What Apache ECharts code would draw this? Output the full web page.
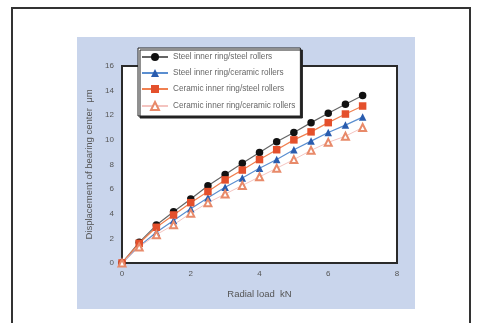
<!DOCTYPE html>
<html><head><meta charset="utf-8">
<script src="https://cdn.jsdelivr.net/npm/echarts@6/dist/echarts.min.js"></script>
<style>html,body{margin:0;padding:0;background:#fff}#c{width:479px;height:323px}</style>
</head><body><div id="c"></div>
<script>
const loads = [0,0.5,1,1.5,2,2.5,3,3.5,4,4.5,5,5.5,6,6.5,7];
const steelSteel = [0,1.68,3.08,4.16,5.19,6.27,7.19,8.1,8.97,9.84,10.6,11.4,12.16,12.9,13.6];
const steelCeramic = [0,1.35,2.5,3.45,4.4,5.3,6.15,6.9,7.7,8.4,9.2,9.9,10.6,11.2,11.85];
const ceramicSteel = [0,1.6,2.9,3.9,4.9,5.8,6.75,7.55,8.4,9.2,10.0,10.65,11.4,12.1,12.75];
const ceramicCeramic = [0,1.3,2.3,3.1,4.05,4.9,5.6,6.3,7.0,7.7,8.4,9.15,9.8,10.3,11.0];
const seriesNames = ['Steel inner ring/steel rollers','Steel inner ring/ceramic rollers','Ceramic inner ring/steel rollers','Ceramic inner ring/ceramic rollers'];
const xTicks = [0,2,4,6,8];
const yTicks = [0,2,4,6,8,10,12,14,16];

const pairs = ys => loads.map((x,i)=>[x,ys[i]]);
const chart = echarts.init(document.getElementById('c'));
const font = 'Liberation Sans, Arial, sans-serif';
chart.setOption({
  backgroundColor:'#fff',
  animation:false,
  graphic:[
    {type:'rect', z:-10, shape:{x:77,y:37,width:338,height:272}, style:{fill:'#c9d5ec'}},
    {type:'line', shape:{x1:12,y1:8,x2:470,y2:8}, style:{stroke:'#333',lineWidth:2}},
    {type:'line', shape:{x1:12,y1:7,x2:12,y2:323}, style:{stroke:'#333',lineWidth:2}},
    {type:'line', shape:{x1:470,y1:7,x2:470,y2:323}, style:{stroke:'#333',lineWidth:2}}
  ],
  grid:{left:122,right:82,top:66,bottom:60,show:true,backgroundColor:'#fff',borderColor:'#2a2a2a',borderWidth:2},
  xAxis:{type:'value',min:0,max:8,interval:2,
    name:'Radial load  kN',nameLocation:'middle',nameGap:26,
    nameTextStyle:{color:'#555',fontSize:9.5,fontFamily:font},
    axisLine:{lineStyle:{color:'#2a2a2a',width:2}},
    axisTick:{show:false},
    axisLabel:{color:'#555',fontSize:8,fontFamily:font,margin:7,formatter:v=>xTicks.includes(v)?String(v):''},
    splitLine:{show:false}},
  yAxis:{type:'value',min:0,max:16,interval:2,
    name:'Displacement of bearing center  μm',nameLocation:'middle',nameGap:21,
    nameTextStyle:{color:'#555',fontSize:9.5,fontFamily:font},
    axisLine:{lineStyle:{color:'#2a2a2a',width:2}},
    axisTick:{show:false},
    axisLabel:{color:'#555',fontSize:8,fontFamily:font,margin:8,formatter:v=>yTicks.includes(v)?String(v):''},
    splitLine:{show:false}},
  legend:{orient:'vertical',left:138,top:48,padding:[5,5,5,3],itemGap:8,itemWidth:26,itemHeight:10,
    backgroundColor:'#fff',borderColor:'#222',borderWidth:1,
    shadowColor:'#222',shadowOffsetX:2,shadowOffsetY:2,shadowBlur:0,
    textStyle:{color:'#666',fontSize:8.2,fontFamily:font},
    data:seriesNames},
  series:[
    {name:seriesNames[0],type:'line',data:pairs(steelSteel),symbol:'circle',symbolSize:7.5,
      itemStyle:{color:'#111'},lineStyle:{color:'#666',width:1.2}},
    {name:seriesNames[1],type:'line',data:pairs(steelCeramic),symbol:'triangle',symbolSize:7.5,
      itemStyle:{color:'#2a5cae'},lineStyle:{color:'#5a8ed0',width:1.2}},
    {name:seriesNames[2],type:'line',data:pairs(ceramicSteel),symbol:'rect',symbolSize:7.5,
      itemStyle:{color:'#e4502c'},lineStyle:{color:'#f08050',width:1.2}},
    {name:seriesNames[3],type:'line',data:pairs(ceramicCeramic),symbol:'emptyTriangle',symbolSize:7,
      itemStyle:{color:'#e88a6a',borderColor:'#e88a6a',borderWidth:1},lineStyle:{color:'#f4c4c0',width:1}}
  ]
});
</script></body></html>
